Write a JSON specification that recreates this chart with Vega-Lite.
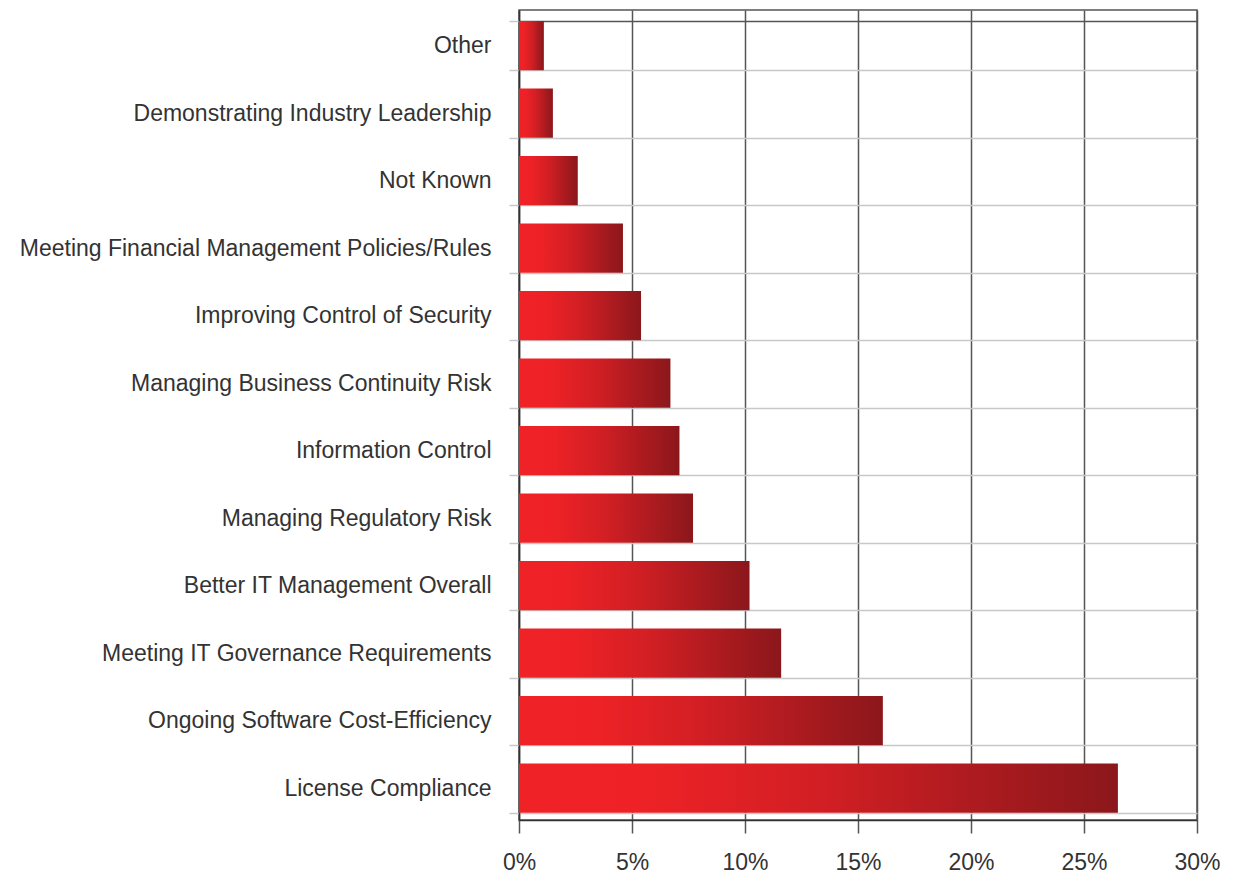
{
  "$schema": "https://vega.github.io/schema/vega-lite/v6.json",
  "width": 678,
  "height": 810,
  "autosize": {"type": "none"},
  "padding": {"left": 519, "top": 10, "right": 39, "bottom": 57},
  "background": "white",
  "config": {
    "view": {"stroke": "#555555", "strokeWidth": 1.5},
    "font": "Liberation Sans"
  },
  "data": {
    "values": [
      {"category": "Other", "value": 1.1},
      {"category": "Demonstrating Industry Leadership", "value": 1.5},
      {"category": "Not Known", "value": 2.6},
      {"category": "Meeting Financial Management Policies/Rules", "value": 4.6},
      {"category": "Improving Control of Security", "value": 5.4},
      {"category": "Managing Business Continuity Risk", "value": 6.7},
      {"category": "Information Control", "value": 7.1},
      {"category": "Managing Regulatory Risk", "value": 7.7},
      {"category": "Better IT Management Overall", "value": 10.2},
      {"category": "Meeting IT Governance Requirements", "value": 11.6},
      {"category": "Ongoing Software Cost-Efficiency", "value": 16.1},
      {"category": "License Compliance", "value": 26.5}
    ]
  },
  "mark": {
    "type": "bar",
    "fill": {
      "gradient": "linear",
      "x1": 0, "y1": 0, "x2": 1, "y2": 0,
      "stops": [
        {"offset": 0, "color": "#ef2326"},
        {"offset": 0.2, "color": "#ee2226"},
        {"offset": 0.5, "color": "#d21f24"},
        {"offset": 1, "color": "#8b171b"}
      ]
    }
  },
  "encoding": {
    "y": {
      "field": "category",
      "type": "nominal",
      "sort": null,
      "scale": {"paddingInner": 0.27, "paddingOuter": 0.136, "align": 0.6},
      "axis": {
        "title": null,
        "tickBand": "extent",
        "grid": true,
        "gridColor": {"condition": {"test": "datum.extra", "value": "#555555"}, "value": "#c8c8c8"},
        "gridWidth": 1.5,
        "tickColor": "#c8c8c8",
        "tickWidth": 1.5,
        "tickSize": 10,
        "domainColor": "#333333",
        "domainWidth": 1.5,
        "labelFont": "Liberation Sans",
        "labelFontSize": 23,
        "labelColor": "#333333",
        "labelPadding": 18,
        "labelLimit": 0
      }
    },
    "x": {
      "field": "value",
      "type": "quantitative",
      "scale": {"domain": [0, 30], "nice": false},
      "axis": {
        "title": null,
        "values": [0, 5, 10, 15, 20, 25, 30],
        "labelExpr": "datum.value + '%'",
        "grid": true,
        "gridColor": "#555555",
        "gridWidth": 1.5,
        "tickColor": "#555555",
        "tickWidth": 1.5,
        "tickSize": 13,
        "domainColor": "#333333",
        "domainWidth": 1.5,
        "labelFont": "Liberation Sans",
        "labelFontSize": 23,
        "labelColor": "#333333",
        "labelPadding": 18,
        "labelFlush": false
      }
    }
  }
}
